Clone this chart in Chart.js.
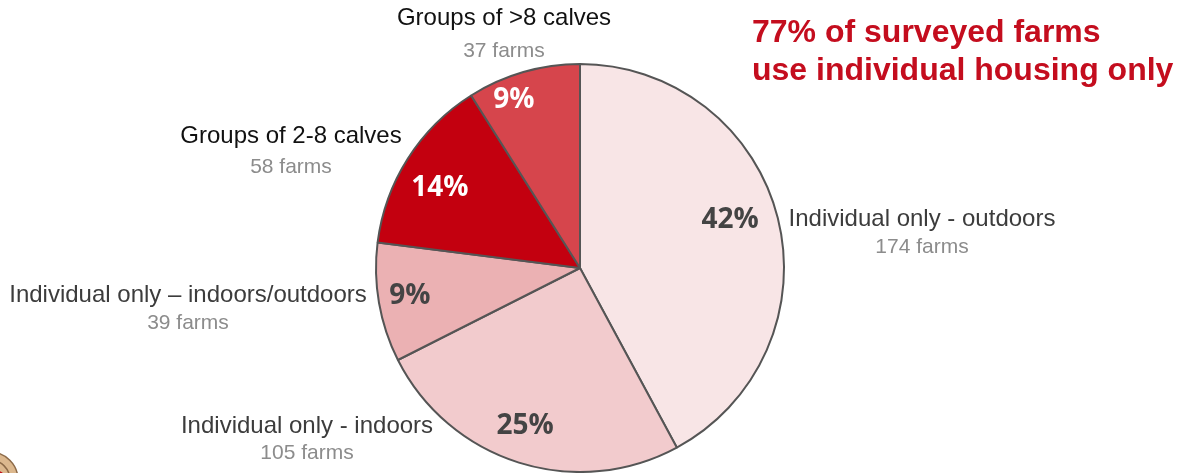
<!DOCTYPE html>
<html>
<head>
<meta charset="utf-8">
<script src="https://cdn.jsdelivr.net/npm/chart.js@4"></script>
<style>
  html, body { margin: 0; padding: 0; background: #fff; }
  #wrap { width: 1179px; height: 473px; position: relative; }
</style>
</head>
<body>
<div id="wrap"><canvas id="housing_pie" width="1179" height="473"></canvas></div>
<script>
// housing types, clockwise from 12 o'clock
const categories = [
    'Individual only - outdoors',
    'Individual only - indoors',
    'Individual only \u2013 indoors/outdoors',
    'Groups of 2-8 calves',
    'Groups of >8 calves'
];
const farms = [174, 105, 39, 58, 37];
const percentLabels = ['42%', '25%', '9%', '14%', '9%'];
const sliceColors = ['#f8e5e6', '#f2cbcd', '#ebb1b3', '#c3000f', '#d6454c'];
const headline = ['77% of surveyed farms', 'use individual housing only'];

// outside captions: x centre, y of name line, y of farm count line
const captionPos = [[922, 219, 247], [307, 426, 453], [188, 295, 323], [291, 136, 167], [504, 18, 51]];
const captionColor = ['#3c3c3c', '#3c3c3c', '#3c3c3c', '#111', '#111'];
const pctRadius = [0.772, 0.82, 0.845, 0.79, 0.885];
const pctTurn = [-3.5, 1.7, 0.4, -2.8, -5.4]; // degrees off the slice middle
const pctColor = ['#444', '#444', '#444', '#fff', '#fff'];

const labelsPlugin = {
    id: 'housingLabels',
    afterDatasetsDraw(chart) {
        const ctx = chart.ctx;
        const arcs = chart.getDatasetMeta(0).data;
        ctx.save();
        ctx.textAlign = 'center';
        ctx.textBaseline = 'middle';

        arcs.forEach((arc, i) => {
            const p = arc.getProps(['x', 'y', 'startAngle', 'endAngle', 'outerRadius'], true);
            const mid = (p.startAngle + p.endAngle) / 2 + pctTurn[i] * Math.PI / 180;
            const r = p.outerRadius * pctRadius[i];
            ctx.font = 'bold 28px "Open Sans", Lato, sans-serif';
            ctx.fillStyle = pctColor[i];
            ctx.fillText(percentLabels[i], p.x + Math.cos(mid) * r, p.y + Math.sin(mid) * r);

            const [cx, cy, cy2] = captionPos[i];
            ctx.font = '24px "Liberation Sans", Arial, sans-serif';
            ctx.fillStyle = captionColor[i];
            ctx.fillText(categories[i], cx, cy);
            ctx.font = '21px "Liberation Sans", Arial, sans-serif';
            ctx.fillStyle = '#8c8c8c';
            ctx.fillText(farms[i] + ' farms', cx, cy2);
        });

        // headline top right
        ctx.textAlign = 'left';
        ctx.font = 'bold 32px "Liberation Sans", Arial, sans-serif';
        ctx.fillStyle = '#c40d1e';
        ctx.fillText(headline[0], 752, 33);
        ctx.fillText(headline[1], 752, 71);

        // corner of the logo peeking in at bottom left
        ctx.beginPath();
        ctx.arc(-10, 480, 28, 0, Math.PI * 2);
        ctx.fillStyle = '#dcb88e';
        ctx.fill();
        ctx.lineWidth = 1.5;
        ctx.strokeStyle = '#8c6a48';
        ctx.stroke();
        ctx.beginPath();
        ctx.arc(-10, 480, 20, 0, Math.PI * 2);
        ctx.stroke();
        ctx.beginPath();
        ctx.arc(-2, 478, 7, 0, Math.PI * 2);
        ctx.fillStyle = '#c0101a';
        ctx.fill();
        ctx.restore();
    }
};

new Chart(document.getElementById('housing_pie'), {
    type: 'pie',
    data: {
        labels: categories,
        datasets: [{
            data: farms,
            backgroundColor: sliceColors,
            borderColor: '#555',
            borderWidth: 2
        }]
    },
    options: {
        responsive: false,
        animation: false,
        radius: 204,
        layout: { padding: { left: 150, right: 169, top: 63, bottom: 0 } },
        plugins: {
            legend: { display: false },
            tooltip: { enabled: false }
        }
    },
    plugins: [labelsPlugin]
});
</script>
</body>
</html>
